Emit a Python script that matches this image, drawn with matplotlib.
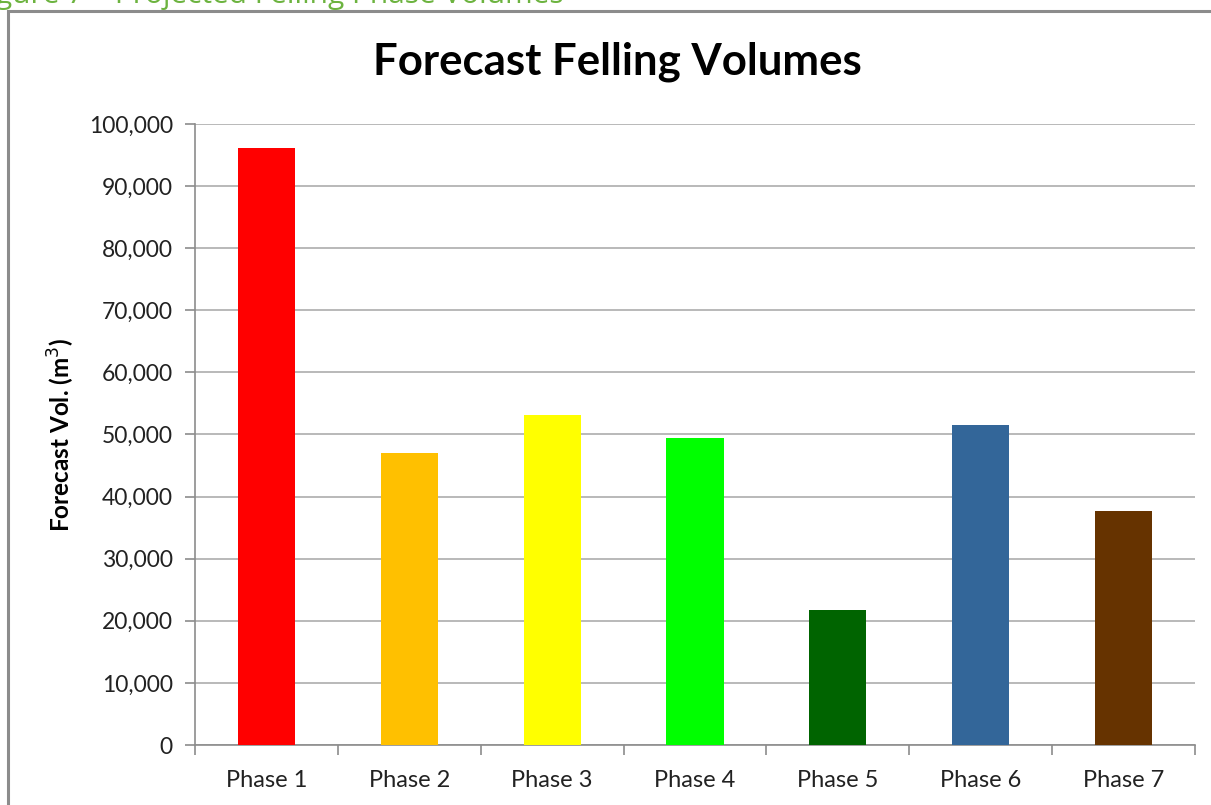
import matplotlib
matplotlib.use("Agg")
import matplotlib.pyplot as plt
from matplotlib.patches import Rectangle
from matplotlib.ticker import FuncFormatter

# Forecast volumes per felling phase (m3)
phases = ["Phase 1", "Phase 2", "Phase 3", "Phase 4", "Phase 5", "Phase 6", "Phase 7"]
volumes = [96100, 47000, 53100, 49400, 21700, 51500, 37700]
colours = ["#ff0000", "#ffc000", "#ffff00", "#00ff00", "#006400", "#336699", "#663300"]

plt.rcParams["font.family"] = ["Lato", "DejaVu Sans"]

fig = plt.figure(figsize=(12.11, 8.05), dpi=100)

# caption above the chart frame, cut off at the top edge
fig.text(-0.022, 1 - 3 / 805, "Figure 7 \u2013 Projected Felling Phase Volumes",
         color="#6cb33f", fontsize=21.5, family=["Open Sans", "DejaVu Sans"],
         ha="left", va="baseline")

# chart frame
fig.patches.append(Rectangle((8 / 1211, -0.1), 1.2, 1 - 11 / 805 + 0.1,
                             transform=fig.transFigure, fill=False,
                             edgecolor="#8c8c8c", linewidth=2.2))

ax = fig.add_axes([195 / 1211, 1 - 745 / 805, 1000 / 1211, (745 - 124) / 805])

x = range(len(phases))
ax.bar(x, volumes, width=0.4, color=colours, zorder=3)

ax.set_xlim(-0.5, len(phases) - 0.5)
ax.set_ylim(0, 100000)
ax.set_yticks(range(0, 100001, 10000))
ax.yaxis.set_major_formatter(FuncFormatter(lambda v, p: f"{int(v):,}"))

ax.set_xticks(list(x))
ax.set_xticklabels(phases)
ax.set_xticks([i - 0.5 for i in range(len(phases) + 1)], minor=True)
ax.tick_params(axis="x", which="major", length=0, pad=18, labelsize=17, colors="#222222")
ax.tick_params(axis="x", which="minor", length=7, width=1.2, color="#8c8c8c")
ax.tick_params(axis="y", length=7, width=1.2, color="#8c8c8c", labelsize=16.5,
               labelcolor="#222222", pad=9)

ax.grid(axis="y", color="#b3b3b3", linewidth=1.3, zorder=0)
for side in ["top", "right"]:
    ax.spines[side].set_visible(False)
for side in ["left", "bottom"]:
    ax.spines[side].set_color("#8c8c8c")
    ax.spines[side].set_linewidth(1.2)

ax.set_ylabel("Forecast Vol. (m$^3$)", fontsize=17.5, fontweight="bold")
ax.yaxis.set_label_coords(-0.118, 0.5)

fig.text(617 / 1211, 1 - 62 / 805, "Forecast Felling Volumes", fontsize=31.5,
         fontweight="bold", ha="center", va="center")

fig.savefig("out.png", dpi=100)
